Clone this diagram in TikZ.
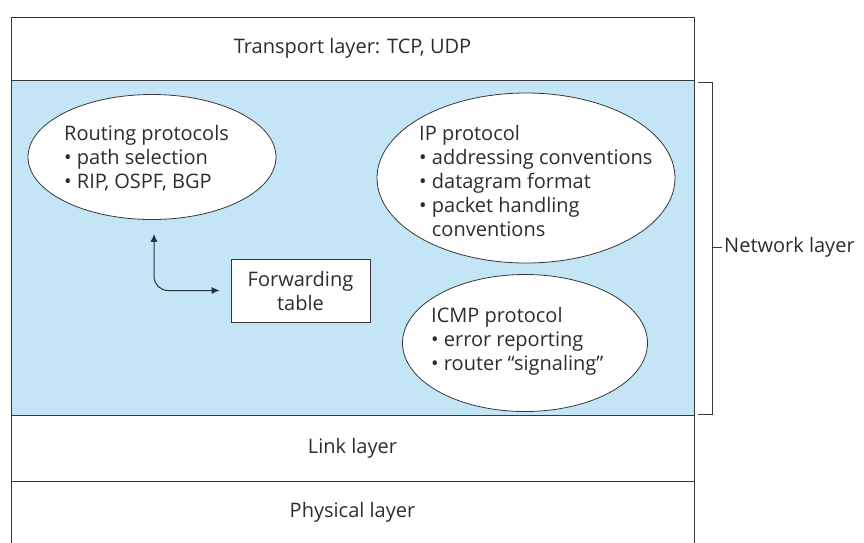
\documentclass[tikz,border=0pt]{standalone}
\usepackage{fontspec}
\setmainfont{Open Sans}
\usepackage{tikz}
\usetikzlibrary{shapes.geometric,arrows.meta}
\definecolor{netblue}{RGB}{196,229,246}
\definecolor{linegray}{RGB}{55,55,55}
\definecolor{textgray}{RGB}{45,45,45}
\definecolor{arrowblue}{RGB}{35,50,65}

\begin{document}
\begin{tikzpicture}[x=1pt, y=-1pt, font=\fontsize{20}{24}\selectfont, text=textgray]
    \tikzstyle{layer} = [rectangle, draw=linegray, line width=1pt, minimum width=683pt, inner sep=0pt]
    \tikzstyle{proto} = [ellipse, draw=linegray, fill=white, line width=0.8pt, inner sep=0pt]
    \tikzstyle{protext} = [align=left, inner sep=0pt, anchor=west]
    \tikzstyle{fwdbox} = [rectangle, draw=linegray, fill=white, line width=0.8pt, minimum width=139pt, minimum height=63pt, align=center, inner sep=0pt]

    \useasboundingbox (0,0) rectangle (864,542);

    % Protocol stack layers from top to bottom
    \node [layer, minimum height=63pt] (transport) at (352.5,48.5) {Transport layer: TCP, UDP};
    \node [layer, minimum height=335pt, fill=netblue] (network) at (352.5,247.5) {};
    \node [layer, minimum height=66pt] (link) at (352.5,448) {Link layer};
    \node [layer, minimum height=62pt] (physical) at (352.5,512.5) {Physical layer};

    % Network layer components
    \node [proto, minimum width=248pt, minimum height=125pt] (routing) at (152,157) {};
    \node [protext] (routingtext) at (64,158) {Routing protocols\\\textbullet\ path selection\\\textbullet\ RIP, OSPF, BGP};
    \node [proto, minimum width=298pt, minimum height=170pt] (ip) at (526,178) {};
    \node [protext] (iptext) at (419,181) {IP protocol\\\textbullet\ addressing conventions\\\textbullet\ datagram format\\\textbullet\ packet handling\\\phantom{\textbullet\ }conventions};
    \node [proto, minimum width=245pt, minimum height=137pt] (icmp) at (525,343) {};
    \node [protext] (icmptext) at (431,341) {ICMP protocol\\\textbullet\ error reporting\\\textbullet\ router ``signaling''};
    \node [fwdbox] (fwd) at (300.5,290.5) {Forwarding\\table};

    \draw [{Latex[length=8pt,width=7pt]}-{Latex[length=8pt,width=7pt]}, draw=arrowblue, line width=1pt, rounded corners=14pt, shorten <=14pt, shorten >=11pt] ([xshift=2pt]routing.south) |- (fwd.west);

    % Bracket for the network layer
    \node [anchor=west, inner sep=2pt] (netlabel) at (722,247) {Network layer};
    \draw [linegray, line width=1pt] (698,82) -- (712,82) -- (712,414) -- (698,414);
    \draw [linegray, line width=1pt] (712,247) -- (netlabel.west);
\end{tikzpicture}
\end{document}
